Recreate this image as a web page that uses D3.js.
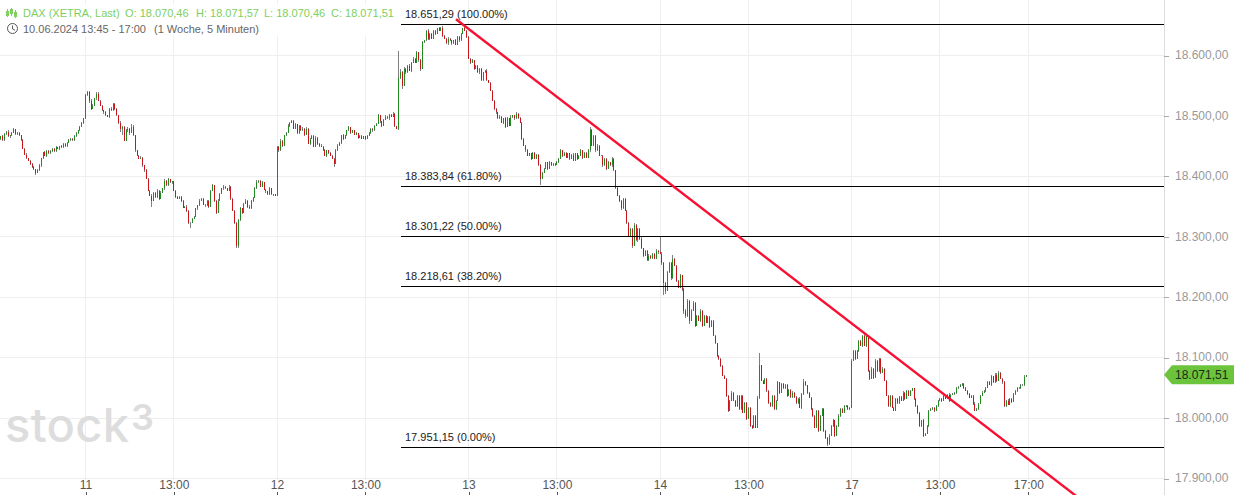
<!DOCTYPE html>
<html><head><meta charset="utf-8">
<script src="https://cdn.jsdelivr.net/npm/d3@7/dist/d3.min.js"></script>
<style>html,body{margin:0;padding:0;background:#fff;overflow:hidden}svg{display:block}text{font-family:"Liberation Sans",Arial,sans-serif}</style>
</head><body><svg id="c" width="1234" height="495"></svg>
<script>
const closes10=[18462,18466,18460,18470,18474,18466,18468,18472,18478,18470,18472,18468,18460,18446,18436,18430,18426,18420,18416,18412,18406,18410,18418,18430,18440,18434,18442,18438,18442,18446,18442,18448,18446,18450,18448,18454,18450,18456,18460,18462,18460,18466,18472,18476,18482,18488,18496];
const closes11=[18534,18540,18525,18512,18517,18529,18537,18525,18517,18509,18506,18501,18499,18512,18509,18520,18512,18501,18489,18479,18482,18459,18476,18479,18472,18482,18468,18443,18434,18429,18431,18418,18410,18396,18376,18368,18360,18373,18366,18376,18363,18373,18380,18393,18385,18395,18390,18392,18376,18366,18363,18366,18360,18348,18350,18343,18323,18323,18330,18333,18347,18352,18360,18363,18353,18352,18360,18350,18376,18385,18360,18340,18360,18371,18380,18383,18380,18376,18383,18363,18343,18323,18284,18327,18347,18340,18355,18360,18350,18347,18360,18365,18380,18391,18393,18383,18390,18378,18375,18370,18380,18370,18370,18368];
const closes12=[18449,18443,18459,18451,18468,18472,18484,18489,18492,18479,18486,18472,18484,18476,18479,18469,18479,18454,18462,18467,18449,18464,18454,18451,18449,18443,18434,18443,18439,18434,18429,18421,18443,18451,18456,18468,18462,18468,18476,18481,18472,18476,18469,18471,18464,18467,18462,18466,18462,18467,18471,18479,18476,18484,18487,18501,18491,18484,18494,18499,18496,18502,18499,18504,18484,18479,18562,18572,18550,18578,18572,18583,18575,18588,18595,18588,18605,18592,18578,18622,18625,18641,18628,18636,18628,18641,18636,18645,18641,18646,18633,18628,18620,18628,18625,18620,18625,18618,18631,18625,18636,18645,18641,18631];
const closes13=[18595,18588,18592,18578,18583,18572,18578,18559,18572,18575,18559,18555,18542,18525,18512,18506,18496,18499,18489,18496,18482,18496,18484,18499,18501,18496,18504,18496,18489,18462,18451,18443,18434,18438,18429,18439,18429,18436,18419,18396,18406,18413,18423,18413,18423,18418,18421,18419,18423,18429,18443,18434,18439,18431,18438,18429,18436,18426,18438,18429,18434,18443,18431,18439,18431,18443,18476,18451,18467,18443,18451,18434,18434,18418,18429,18413,18423,18418,18429,18410,18380,18368,18360,18347,18363,18343,18323,18302,18313,18285,18319,18294,18313,18297,18281,18269,18277,18261,18269,18265,18272,18264,18277,18274];
const closes14=[18272,18257,18224,18211,18241,18257,18231,18264,18252,18227,18216,18236,18214,18178,18169,18194,18161,18178,18191,18153,18169,18161,18178,18153,18169,18158,18168,18151,18161,18136,18124,18103,18098,18086,18070,18065,18037,18012,18029,18042,18029,18020,18037,18015,18037,18009,18025,17999,18017,17987,17984,18004,17984,18034,18087,18062,18057,18065,18045,18025,18020,18037,18015,18029,18059,18042,18057,18049,18055,18037,18047,18035,18042,18035,18025,18032,18017,18040,18059,18054,18042,18034,18015,18004,17984,18012,17979,18004,18015,17979,17967,17957,17971,17987,17996,17971,17987,18004,18015,18009,18020,18020,18015,18017];
const closes17=[18095,18111,18098,18111,18128,18120,18136,18120,18136,18078,18065,18082,18067,18095,18078,18098,18075,18082,18062,18037,18020,18037,18017,18012,18032,18025,18035,18029,18042,18032,18045,18037,18045,18049,18032,18020,18009,17987,17996,17971,17974,17987,18012,18015,18017,18012,18020,18029,18032,18029,18037,18032,18039,18029,18039,18040,18042,18049,18052,18055,18057,18049,18045,18040,18034,18037,18024,18012,18015,18024,18037,18042,18045,18050,18060,18055,18069,18059,18072,18062,18075,18065,18059,18020,18029,18022,18032,18027,18040,18045,18050,18049,18055,18054,18068,18071.51];
const closes=[...closes10,...closes11,...closes12,...closes13,...closes14,...closes17];

const upper10=[2,1,2,1,1,2,1,1,2,1,1,2,1,1,1,2,1,1,2,1,1,2,3,1,1,2,1,1,2,1,1,2,1,1,2,1,1,1,2,1,1,2,1,1,1,2,0];
const lower10=[1,2,1,2,1,1,2,1,1,2,1,1,2,1,1,2,1,1,2,1,4,1,1,2,1,1,2,1,1,2,1,1,1,2,1,1,2,1,1,2,1,1,1,2,1,1,1];
const upper11=[3,2,1,3,2,1,2,3,1,1,1,2,1,1,3,2,1,1,1,2,1,1,2,3,1,4,3,1,1,1,2,1,1,2,1,1,2,1,1,3,1,2,1,3,1,2,1,1,1,2,1,1,2,1,1,2,2,1,1,2,1,1,2,1,1,2,1,1,2,3,1,1,2,1,1,2,1,1,2,1,1,1,1,2,3,1,1,2,1,3,1,1,2,3,1,1,2,1,1,1,2,1,1,1];
const lower11=[1,1,3,2,1,1,2,1,1,1,3,1,1,2,1,1,2,1,3,5,10,1,1,2,3,1,1,2,1,1,1,2,2,1,1,1,10,1,2,1,2,1,1,2,1,1,1,2,1,1,1,1,2,1,1,2,2,8,1,1,1,2,1,1,1,2,1,2,1,1,3,2,1,1,1,2,1,1,1,2,1,2,3,3,1,2,1,1,3,1,1,2,1,1,2,1,1,1,2,1,1,1,2,1];
const upper12=[2,1,2,1,1,2,2,1,1,1,2,1,1,1,2,1,3,1,1,2,1,2,1,1,2,1,2,1,1,2,1,1,2,2,1,1,2,1,1,3,1,1,1,2,1,1,2,1,1,1,2,1,1,1,2,3,1,1,1,2,1,1,2,3,1,0,46,5,2,3,1,2,3,1,2,1,2,1,3,2,1,2,3,1,2,1,2,1,2,1,2,1,1,2,1,1,1,2,1,1,2,1,3,2];
const lower12=[1,2,1,2,1,1,1,2,1,1,1,2,2,1,1,2,1,1,2,1,1,1,2,2,1,1,1,2,2,1,1,5,1,1,1,2,2,1,1,1,2,1,1,1,2,1,1,1,2,1,1,1,2,1,1,1,2,2,1,1,1,2,1,1,2,1,2,1,6,1,2,1,1,2,1,1,1,2,3,1,1,1,2,2,1,1,2,1,1,1,2,1,1,2,1,3,1,1,1,2,1,1,1,2];
const upper13=[2,1,2,1,1,1,2,1,1,1,2,1,1,1,2,1,1,2,1,1,2,3,1,2,1,1,3,1,2,1,1,1,2,1,1,2,1,1,1,1,2,1,1,1,2,1,1,1,2,1,3,1,1,2,1,1,1,2,1,1,1,2,1,1,1,2,5,2,2,1,3,1,1,2,1,1,2,1,3,1,1,2,1,1,2,1,1,2,2,1,3,2,1,1,2,1,1,1,2,1,1,1,2,1];
const lower13=[1,2,1,2,1,1,2,2,1,1,2,1,1,1,2,2,1,1,1,2,2,1,1,1,2,2,1,1,1,2,1,2,1,1,2,1,1,1,2,10,1,1,1,2,1,1,1,2,1,1,1,2,1,1,1,2,1,1,1,2,1,1,2,1,1,1,2,1,1,2,1,1,1,2,1,2,1,1,2,1,1,1,2,2,1,1,2,2,1,3,1,1,2,2,1,3,1,1,1,2,1,1,1,2];
const upper14=[28,2,1,2,3,2,1,6,1,1,2,3,1,1,2,3,1,3,2,1,1,2,2,1,1,2,1,1,2,1,1,1,2,1,1,1,2,1,1,2,1,1,2,1,1,2,1,1,1,2,1,1,1,2,21,1,1,2,1,1,1,2,1,1,2,1,1,1,2,1,1,1,2,1,1,1,3,1,6,2,1,1,1,2,1,2,1,1,2,1,1,1,2,1,2,1,1,3,1,1,2,1,1,1];
const lower14=[1,3,20,6,1,1,3,1,1,2,1,1,4,6,3,1,6,1,1,2,1,1,2,2,1,1,1,2,1,1,1,2,2,1,1,1,2,2,1,1,1,2,1,2,1,1,1,2,1,1,2,1,1,1,2,1,1,1,2,1,1,2,2,1,1,2,1,1,1,2,1,1,1,2,1,1,1,2,1,1,2,1,1,2,1,1,2,1,1,2,1,3,1,1,2,2,1,1,2,1,1,1,1,2];
const upper17=[3,2,1,2,1,2,2,3,3,1,1,2,1,3,1,1,1,2,1,1,1,1,2,1,1,1,2,1,2,1,1,1,2,1,1,2,1,1,1,2,1,2,1,1,2,1,2,1,1,1,2,1,1,2,1,1,1,2,1,2,1,1,2,1,1,1,1,2,1,1,1,2,2,1,2,1,2,1,3,2,3,1,1,2,1,2,1,1,1,2,1,1,2,1,4,0];
const lower17=[1,1,2,1,1,1,2,1,3,1,2,1,3,1,1,1,2,1,1,1,2,2,1,1,1,2,1,1,1,2,1,1,1,1,2,1,2,1,1,2,1,1,2,1,1,2,1,1,1,2,1,1,1,2,1,1,1,2,1,1,2,1,1,2,1,1,2,1,1,2,1,1,1,2,1,1,2,1,1,2,1,1,3,2,1,1,1,2,1,1,2,1,1,1,1,0];
const upperWicks=[...upper10,...upper11,...upper12,...upper13,...upper14,...upper17];
const lowerWicks=[...lower10,...lower11,...lower12,...lower13,...lower14,...lower17];

const priceTicks=[17900,18000,18100,18200,18300,18400,18500,18600];
const timeTickBars=[47,95,151,199,255,303,359,407,463,511,559];
const timeTickLabels=["11","13:00","12","13:00","13","13:00","14","13:00","17","13:00","17:00"];
const fibPrices=[18651.29,18383.84,18301.22,18218.61,17951.15];
const fibPercents=["100.00%","61.80%","50.00%","38.20%","0.00%"];
const trendBars=[248.2,585];
const trendPrices=[18660,17871];
const lastPrice=18071.51;
const ohlc=[["O",18070.46,125],["H",18071.57,196],["L",18070.46,264],["C",18071.51,331]];

const svg=d3.select("#c");
const x=d3.scaleLinear().domain([47,559]).range([85.5,1028.3]);
const y=d3.scaleLinear().domain([17900,18600]).range([478.5,55.5]);
const de=d3.formatLocale({decimal:",",thousands:".",grouping:[3],currency:["",""]});
const fmt=de.format(",.2f");
const plotRight=1164;

const grid=svg.append("g").attr("shape-rendering","crispEdges").attr("stroke","#eeeeee");
grid.selectAll("line.h").data(priceTicks).join("line").attr("class","h").attr("x1",0).attr("x2",plotRight).attr("y1",d=>y(d)).attr("y2",d=>y(d));
grid.selectAll("line.v").data(timeTickBars).join("line").attr("class","v").attr("x1",d=>x(d)).attr("x2",d=>x(d)).attr("y1",0).attr("y2",480);

// watermark
svg.append("text").attr("x",5).attr("y",442).attr("font-size",47).attr("font-weight",500).attr("fill","#dddddd").style("font-family","Inter").attr("textLength",124).text("stock");
svg.append("text").attr("x",131).attr("y",430).attr("font-size",36).attr("font-weight",600).attr("fill","#dddddd").style("font-family","Inter").text("3");

// candles
const bars=closes.map((c,i)=>{const o=i?closes[i-1]:c-2;return {i,o,c,h:Math.max(o,c)+(upperWicks[i]||0),l:Math.min(o,c)-(lowerWicks[i]||0)};});
const cg=svg.append("g").attr("shape-rendering","crispEdges");
cg.selectAll("line").data(bars).join("line").attr("x1",d=>x(d.i)).attr("x2",d=>x(d.i)).attr("y1",d=>y(d.h)).attr("y2",d=>y(d.l)).attr("stroke","#808080");
cg.selectAll("rect").data(bars).join("rect").attr("x",d=>x(d.i)-.5).attr("width",1)
 .attr("y",d=>y(Math.max(d.o,d.c))).attr("height",d=>Math.max(.6,Math.abs(y(d.o)-y(d.c))))
 .attr("fill",d=>d.c>=d.o?"#1f8a1f":"#c8141a");

// fibonacci
const fibY=d=>Math.floor(y(d)+.2)+.5;
const fg=svg.append("g");
fg.selectAll("line").data(fibPrices).join("line").attr("shape-rendering","crispEdges").attr("x1",401).attr("x2",plotRight).attr("y1",fibY).attr("y2",fibY).attr("stroke","#000");
fg.selectAll("text").data(fibPrices).join("text").attr("x",405).attr("y",d=>fibY(d)-6.5).attr("font-size",11).attr("fill","#222").text((d,i)=>`${fmt(d)} (${fibPercents[i]})`);

// right axis
svg.append("line").attr("shape-rendering","crispEdges").attr("x1",plotRight).attr("x2",plotRight).attr("y1",0).attr("y2",495).attr("stroke","#dddddd");
const ya=svg.append("g").attr("transform",`translate(${plotRight},0)`).call(d3.axisRight(y).tickValues(priceTicks).tickFormat(fmt).tickSize(5).tickPadding(6));
ya.select(".domain").remove();
ya.selectAll("line").attr("stroke","#aaa").attr("shape-rendering","crispEdges");
ya.selectAll("text").attr("fill","#999").attr("font-size",12).attr("dy","0.27em").style("font-family","Liberation Sans");

// bottom axis
const xa=svg.append("g").attr("transform","translate(0,478)").call(d3.axisBottom(x).tickValues(timeTickBars).tickFormat((d,i)=>timeTickLabels[i]).tickSize(14).tickPadding(-11.5));
xa.select(".domain").remove();
xa.selectAll("line").attr("y1",14).attr("y2",17).attr("stroke","#555").attr("shape-rendering","crispEdges");
xa.selectAll("text").attr("fill","#555").attr("font-size",12).style("font-family","Liberation Sans");

// trend line
svg.append("line").attr("x1",x(trendBars[0])).attr("y1",y(trendPrices[0])).attr("x2",x(trendBars[1])).attr("y2",y(trendPrices[1])).attr("stroke","#f80f32").attr("stroke-width",2.4);

// last price tag
const ly=y(lastPrice);
svg.append("path").attr("d",`M${plotRight},${ly} L1172,${ly-9.5} H1234 V${ly+9.5} H1172 Z`).attr("fill","#6cc33c");
svg.append("text").attr("x",1175).attr("y",ly+4).attr("font-size",12).attr("fill","#1a2a14").text(fmt(lastPrice));

// legend
svg.append("rect").attr("x",0).attr("y",4).attr("width",398).attr("height",32).attr("fill","#fff").attr("fill-opacity",.92);
const green="#7dd05c";
const icon=svg.append("g").attr("stroke",green).attr("fill","none").attr("shape-rendering","crispEdges");
[[7,9,17,11,15],[11,8,16,9,13],[15,10,18,12,16]].forEach(a=>{
 icon.append("line").attr("x1",a[0]).attr("x2",a[0]).attr("y1",a[1]).attr("y2",a[2]);
 icon.append("rect").attr("x",a[0]-1).attr("y",a[3]).attr("width",2).attr("height",a[4]-a[3]);
});
const tg=svg.append("g").attr("font-size",11);
tg.append("text").attr("x",23).attr("y",16.5).attr("fill",green).text("DAX (XETRA, Last)");
tg.selectAll("text.o").data(ohlc).join("text").attr("class","o").attr("x",d=>d[2]).attr("y",16.5).attr("fill",green).text(d=>`${d[0]}: ${fmt(d[1])}`);
tg.append("text").attr("x",23).attr("y",32.5).attr("fill","#666").text("10.06.2024 13:45 - 17:00");
tg.append("text").attr("x",154).attr("y",32.5).attr("fill","#666").text("(1 Woche, 5 Minuten)");
const clk=svg.append("g").attr("stroke","#555").attr("fill","none");
clk.append("circle").attr("cx",12.5).attr("cy",28.5).attr("r",5);
clk.append("path").attr("d","M12.5,25.5 V28.8 L15,30.3");
</script></body></html>
